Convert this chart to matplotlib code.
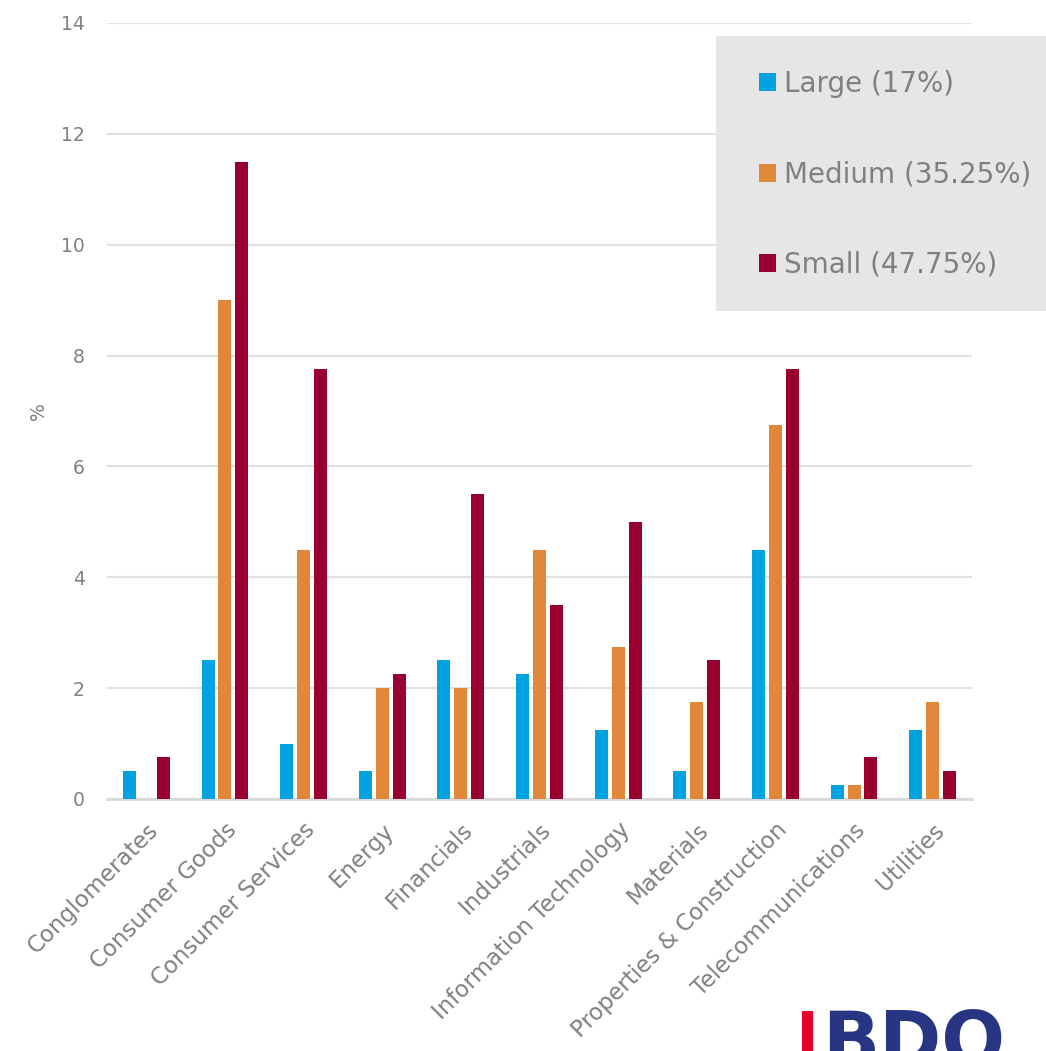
import numpy as np
import matplotlib
matplotlib.use('Agg')
import matplotlib.pyplot as plt
from matplotlib.patches import Rectangle, Patch

# Дані
categories = ['Conglomerates', 'Consumer Goods', 'Consumer Services', 'Energy',
              'Financials', 'Industrials', 'Information Technology', 'Materials',
              'Properties & Construction', 'Telecommunications', 'Utilities']
large = [0.5, 2.5, 1, 0.5, 2.5, 2.25, 1.25, 0.5, 4.5, 0.25, 1.25]
medium = [0, 9, 4.5, 2, 2, 4.5, 2.75, 1.75, 6.75, 0.25, 1.75]
small = [0.75, 11.5, 7.75, 2.25, 5.5, 3.5, 5, 2.5, 7.75, 0.75, 0.5]
series_labels = ['Large (17%)', 'Medium (35.25%)', 'Small (47.75%)']
colors = ['#00A3E0', '#E0873A', '#990030']
yticks = [0, 2, 4, 6, 8, 10, 12, 14]

plt.rcParams['font.family'] = ['DejaVu Sans']
text_color = '#808080'

fig = plt.figure(figsize=(10.46, 10.51), dpi=100)
ax = fig.add_axes([107 / 1046, 1 - 799 / 1051, 865 / 1046, 776 / 1051])

x = np.arange(len(categories))
width = 0.165
step = 0.215
for i, (vals, c) in enumerate(zip([large, medium, small], colors)):
    ax.bar(x + (i - 1) * step, vals, width=width, color=c, zorder=3)

ax.set_xlim(-0.5, len(categories) - 0.5)
ax.set_ylim(0, 14)
ax.set_yticks(yticks)
ax.set_yticklabels([str(t) for t in yticks], fontsize=13.5, color=text_color)
ax.yaxis.grid(True, color='#e0e0e0', linewidth=1.5, zorder=0)
ax.tick_params(axis='y', length=0, pad=16)
ax.tick_params(axis='x', length=0, pad=14)
ax.set_xticks(x)
ax.set_xticklabels(categories, rotation=45, ha='right', rotation_mode='anchor',
                   fontsize=16.5, color=text_color)
for s in ['top', 'right', 'left']:
    ax.spines[s].set_visible(False)
ax.spines['bottom'].set_color('#d9d9d9')
ax.spines['bottom'].set_linewidth(2)
ax.set_ylabel('%', fontsize=13.5, color=text_color)
ax.yaxis.set_label_coords(-0.068, 0.5)

# Легенда
fig.patches.append(Rectangle((716 / 1046, 1 - 311 / 1051), 340 / 1046, 275 / 1051,
                             transform=fig.transFigure, facecolor='#e6e6e6',
                             edgecolor='none', zorder=5))
handles = [Patch(facecolor=c, edgecolor='none') for c in colors]
leg = fig.legend(handles, series_labels, loc='upper left',
                 bbox_to_anchor=(734 / 1046, 1 - 45 / 1051), frameon=False,
                 fontsize=20, labelspacing=2.25, handlelength=0.6, handleheight=0.6,
                 handletextpad=0.3)
for t in leg.get_texts():
    t.set_color(text_color)
leg.set_zorder(6)

# Логотип BDO
fig.patches.append(Rectangle((802 / 1046, 0), 11 / 1046, 40 / 1051,
                             transform=fig.transFigure, facecolor='#E4002B',
                             edgecolor='none'))
fig.text(822 / 1046, -30 / 1051, 'BDO', fontsize=54, fontweight='bold',
         color='#283583', ha='left', va='bottom')

fig.savefig('out.png', dpi=100)
